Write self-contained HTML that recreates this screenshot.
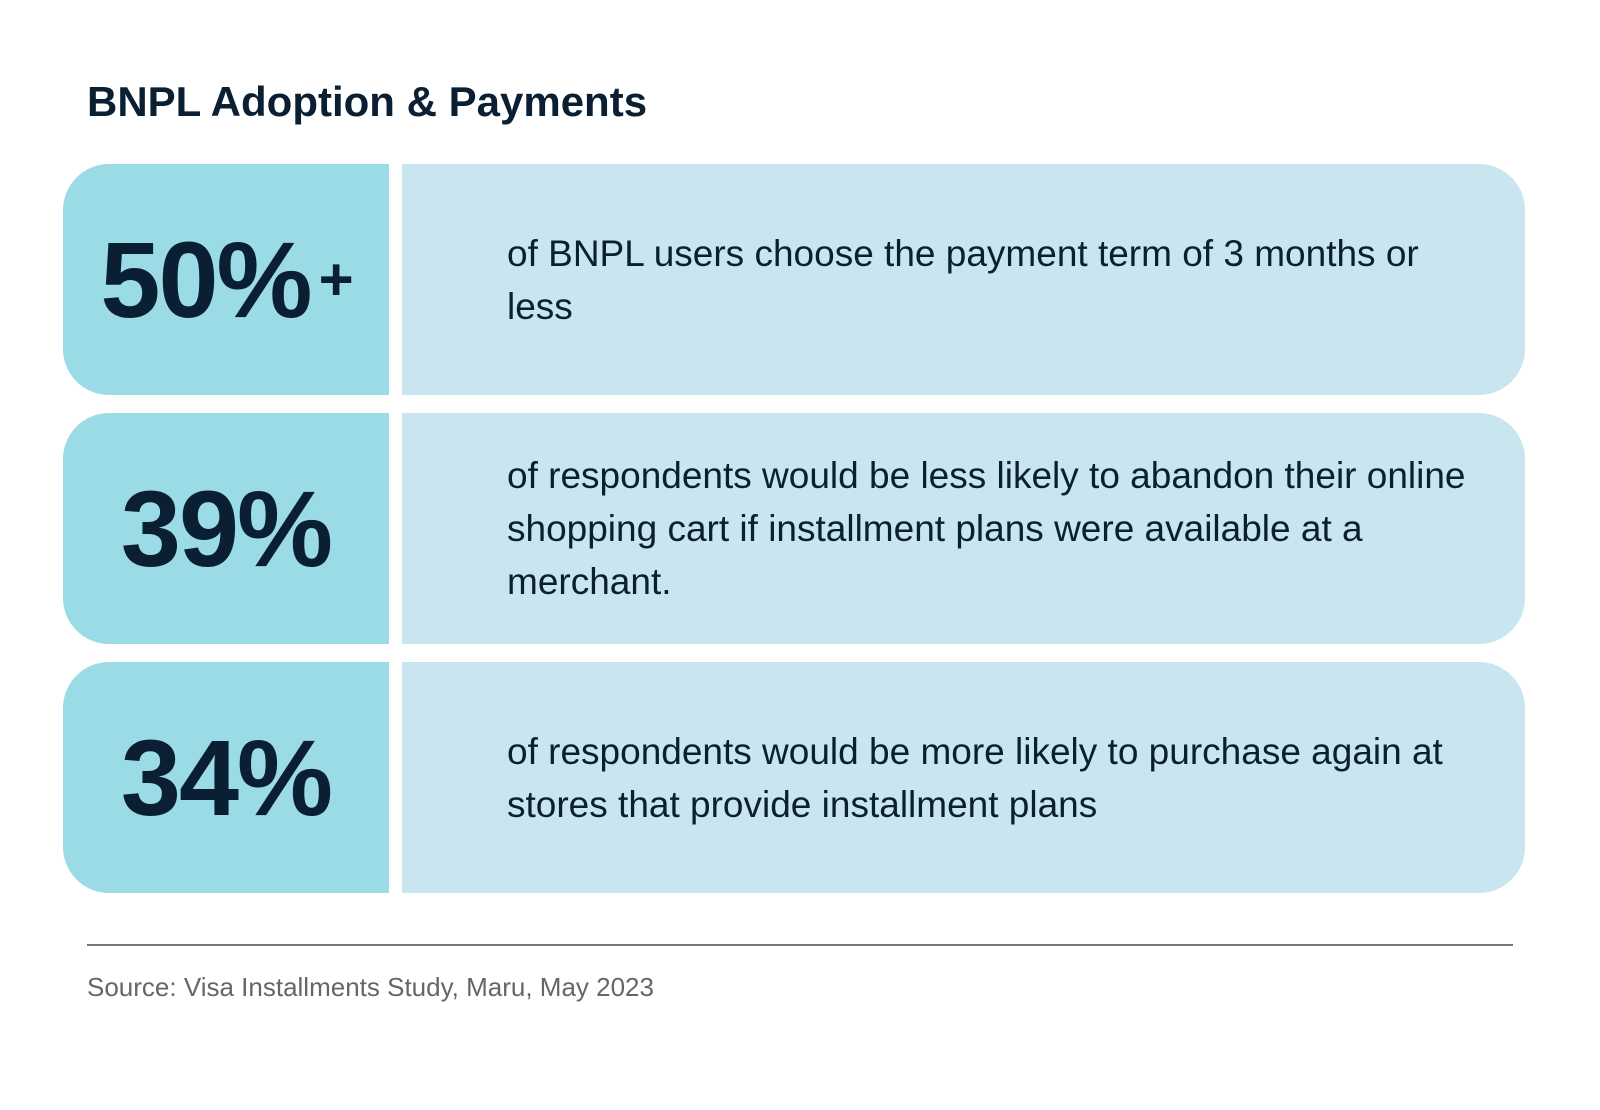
<!DOCTYPE html>
<html><head><meta charset="utf-8"><style>
body{margin:0;width:1600px;height:1110px;background:#fff;font-family:"Liberation Sans",sans-serif;color:#0b1f33;position:relative;overflow:hidden}
.t{position:absolute;left:87px;top:78px;font-size:42px;font-weight:bold;color:#0b1f33;margin:0}
.row{position:absolute;left:63px;width:1462px;height:231px}
.l{position:absolute;left:0;top:0;width:326px;height:100%;background:#9adbe6;border-radius:46px 0 0 46px;display:flex;align-items:center;justify-content:center;font-weight:bold;font-size:108px;letter-spacing:-2px}
.r{position:absolute;left:339px;top:0;right:0;height:100%;background:#c8e5f0;border-radius:0 46px 46px 0;display:flex;align-items:center}
.r p{margin:0 0 0 105px;padding-right:40px;font-size:37px;line-height:53px;color:#0b1f33}
.hr{position:absolute;left:87px;top:944px;width:1426px;height:2px;background:#777}
.src{position:absolute;left:87px;top:972px;font-size:26px;color:#666}
sup{font-size:60px;vertical-align:32px;margin-left:8px}
</style></head><body>
<h1 class="t">BNPL Adoption &amp; Payments</h1>
<div class="row" style="top:164px">
<div class="l">50%<sup>+</sup></div>
<div class="r"><p>of BNPL users choose the payment term of 3 months or less</p></div></div>
<div class="row" style="top:413px">
<div class="l">39%</div>
<div class="r"><p>of respondents would be less likely to abandon their online shopping cart if installment plans were available at a merchant.</p></div></div>
<div class="row" style="top:662px">
<div class="l">34%</div>
<div class="r"><p>of respondents would be more likely to purchase again at stores that provide installment plans</p></div></div>
<div class="hr"></div>
<div class="src">Source: Visa Installments Study, Maru, May 2023</div>
</body></html>
